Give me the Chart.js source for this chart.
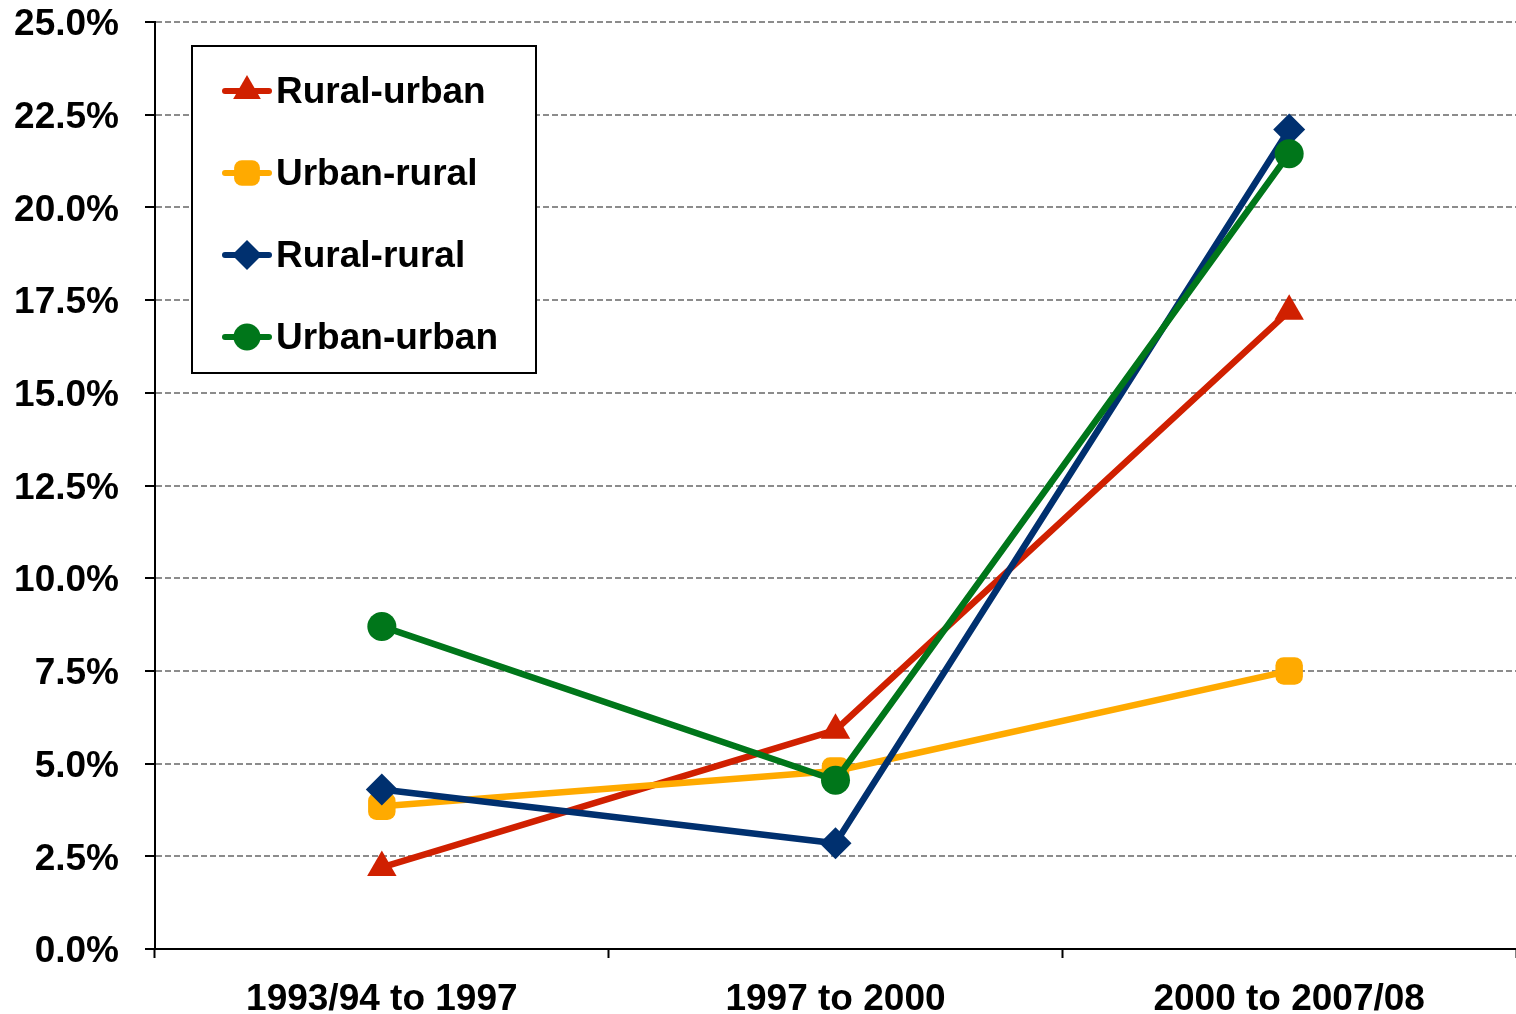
<!DOCTYPE html>
<html>
<head>
<meta charset="utf-8">
<script src="https://cdn.jsdelivr.net/npm/chart.js@4.4.0/dist/chart.umd.min.js"></script>
<style>
  html, body { margin: 0; padding: 0; background: #fff; }
</style>
</head>
<body>
<canvas id="chart" width="1516" height="1014"></canvas>
<script>
const periods = ["1993/94 to 1997", "1997 to 2000", "2000 to 2007/08"]
const ruralUrban = [2.2, 5.9, 17.2]
const urbanRural = [3.85, 4.8, 7.5]
const ruralRural = [4.3, 2.85, 22.1]
const urbanUrban = [8.7, 4.55, 21.45]

const FONT = "'Liberation Sans', Arial, sans-serif"

// legend sits inside the plot, boxed, like the original
const legendBox = {
  id: "legendBox",
  afterDraw(chart) {
    const ctx = chart.ctx
    ctx.save()
    ctx.fillStyle = "#fff"
    ctx.fillRect(192, 46, 344, 327)
    ctx.lineWidth = 2
    ctx.strokeStyle = "#000"
    ctx.strokeRect(192, 46, 344, 327)
    chart.data.datasets.forEach((ds, i) => {
      const cy = 91 + i * 82
      ctx.strokeStyle = ds.borderColor
      ctx.lineWidth = 6
      ctx.lineCap = "round"
      ctx.beginPath()
      ctx.moveTo(225, cy)
      ctx.lineTo(269, cy)
      ctx.stroke()
      ctx.fillStyle = ds.backgroundColor
      Chart.helpers.drawPoint(ctx, {
        pointStyle: ds.pointStyle,
        radius: ds.pointRadius - 1,
        rotation: 0,
        borderWidth: 0,
      }, 247, cy)
      ctx.fillStyle = "#000"
      ctx.font = "bold 37px " + FONT
      ctx.textBaseline = "middle"
      ctx.textAlign = "left"
      ctx.fillText(ds.label, 276, cy + 2)
    })
    ctx.restore()
  },
}

const series = (label, data, color, style, radius, order) => ({
  label,
  data,
  borderColor: color,
  backgroundColor: color,
  borderWidth: 6.5,
  borderJoinStyle: "round",
  borderCapStyle: "round",
  pointStyle: style,
  pointRadius: radius,
  pointBorderWidth: 0,
  pointHoverRadius: radius,
  tension: 0,
  fill: false,
  order,
})

new Chart(document.getElementById("chart").getContext("2d"), {
  type: "line",
  data: {
    labels: periods,
    datasets: [
      series("Rural-urban", ruralUrban, "#D02000", "triangle", 17, 4),
      series("Urban-rural", urbanRural, "#FFAA00", "rectRounded", 16, 3),
      series("Rural-rural", ruralRural, "#00306F", "rectRot", 16, 2),
      series("Urban-urban", urbanUrban, "#00761A", "circle", 14.5, 1),
    ],
  },
  options: {
    responsive: false,
    devicePixelRatio: 1,
    animation: false,
    layout: { autoPadding: false, padding: { top: 22, right: 0, left: 0, bottom: 0 } },
    plugins: {
      legend: { display: false },
      tooltip: { enabled: false },
    },
    scales: {
      x: {
        offset: true,
        grid: {
          offset: true,
          drawOnChartArea: false,
          drawTicks: true,
          tickLength: 9,
          tickColor: "#000",
          tickWidth: 2,
        },
        border: { display: true, color: "#000", width: 2 },
        ticks: {
          color: "#000",
          padding: 20,
          maxRotation: 0,
          font: { family: FONT, size: 37, weight: "bold" },
        },
        afterFit(scale) {
          scale.height = 65
          scale.paddingLeft = 0
          scale.paddingRight = 0
        },
      },
      y: {
        min: 0,
        max: 25,
        grid: {
          color: "#8c8c8c",
          lineWidth: 2,
          drawTicks: true,
          tickLength: 10,
          tickColor: "#000",
          tickWidth: 2,
          tickBorderDash: [],
        },
        border: { display: true, color: "#000", width: 2, dash: [6, 3] },
        ticks: {
          stepSize: 2.5,
          color: "#000",
          padding: 26,
          labelOffset: 3,
          font: { family: FONT, size: 37, weight: "bold" },
          callback: (v) => v.toFixed(1) + "%",
        },
        afterFit(scale) {
          scale.width = 155
          scale.paddingTop = 0
          scale.paddingBottom = 0
        },
      },
    },
  },
  plugins: [legendBox],
})
</script>
</body>
</html>
